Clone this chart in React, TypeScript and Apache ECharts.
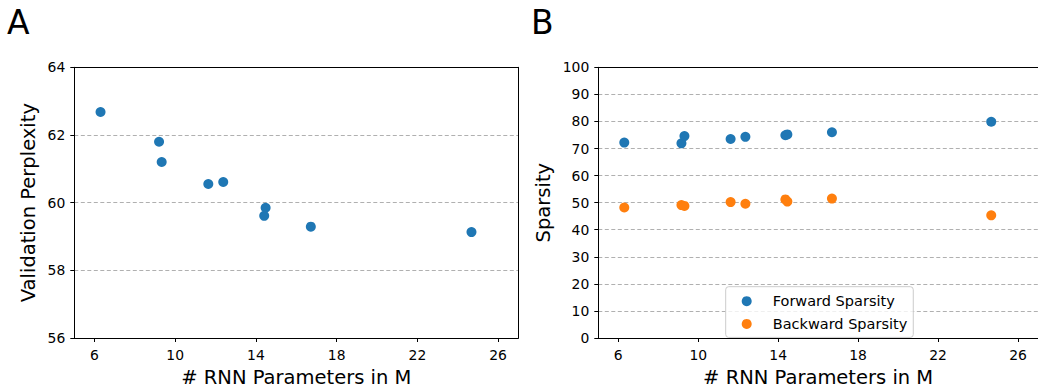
import React, { useEffect, useRef } from "react";
import * as echarts from "echarts";

const params = [6.3, 9.2, 9.33, 11.64, 12.38, 14.41, 14.48, 16.72, 24.68];
const perplexity = [62.68, 61.8, 61.2, 60.55, 60.61, 59.61, 59.85, 59.29, 59.13];
const paramsFwd = [6.3, 9.16, 9.31, 11.62, 12.36, 14.36, 14.46, 16.69, 24.66];
const forwardSparsity = [72.2, 71.9, 74.6, 73.5, 74.3, 74.9, 75.2, 76.0, 79.9];
const backwardSparsity = [48.2, 49.1, 48.8, 50.2, 49.6, 51.2, 50.4, 51.5, 45.3];
const xTicks = [6, 10, 14, 18, 22, 26];

const FONT = "DejaVu Sans";
const BLUE = "#1f77b4";
const ORANGE = "#ff7f0e";

function zip(xs: number[], ys: number[]) {
  return xs.map((x, i) => [x, ys[i]]);
}

export default function App() {
  const ref = useRef<HTMLDivElement>(null);
  useEffect(() => {
    if (!ref.current) return;
    const chart = echarts.init(ref.current, undefined, { renderer: "svg" });
    const xAxisBase = (gridIndex: number) => ({
      type: "value",
      gridIndex,
      min: 5,
      max: 27,
      name: "# RNN Parameters in M",
      nameLocation: "middle",
      nameGap: 29,
      nameTextStyle: { fontSize: 19.5, color: "#000", fontFamily: FONT },
      axisLine: { show: true, onZero: false, lineStyle: { color: "#000", width: 1 } },
      axisTick: {
        show: true,
        length: 4,
        inside: false,
        customValues: xTicks,
        lineStyle: { color: "#000", width: 1 },
      },
      axisLabel: {
        customValues: xTicks,
        fontSize: 13.9,
        color: "#000",
        fontFamily: FONT,
        margin: 10,
      },
      splitLine: { show: false },
    });
    const frameAxis = (kind: "x" | "y", gridIndex: number, min: number, max: number) => ({
      type: "value",
      gridIndex,
      position: kind === "x" ? "top" : "right",
      min,
      max,
      axisLine: { show: true, onZero: false, lineStyle: { color: "#000", width: 1 } },
      axisTick: { show: false },
      axisLabel: { show: false },
      splitLine: { show: false },
      z: 10,
    });
    const yAxisBase = (gridIndex: number) => ({
      type: "value",
      gridIndex,
      nameLocation: "middle",
      nameRotate: 90,
      nameTextStyle: { fontSize: 19.5, color: "#000", fontFamily: FONT },
      axisLine: { show: true, onZero: false, lineStyle: { color: "#000", width: 1 } },
      axisTick: { show: true, length: 4, inside: false, lineStyle: { color: "#000", width: 1 } },
      axisLabel: { fontSize: 13.9, color: "#000", fontFamily: FONT, margin: 9 },
      splitLine: { show: true, lineStyle: { color: "#b0b0b0", type: [4, 2.5], width: 1 } },
    });
    chart.setOption({
      animation: false,
      textStyle: { fontFamily: FONT },
      title: [
        { text: "A", left: 7, top: 6, padding: 0, textStyle: { fontSize: 33, fontWeight: "normal", color: "#000", fontFamily: FONT } },
        { text: "B", left: 531, top: 6, padding: 0, textStyle: { fontSize: 33, fontWeight: "normal", color: "#000", fontFamily: FONT } },
      ],
      grid: [
        { left: 74.3, top: 67.3, width: 444, height: 273.7 },
        { left: 598.3, top: 67.3, width: 444.6, height: 273.7 },
      ],
      xAxis: [xAxisBase(0), xAxisBase(1), frameAxis("x", 0, 5, 27), frameAxis("x", 1, 5, 27)],
      yAxis: [
        { ...yAxisBase(0), min: 56, max: 64, interval: 2, name: "Validation Perplexity", nameGap: 36 },
        { ...yAxisBase(1), min: 0, max: 100, interval: 10, name: "Sparsity", nameGap: 45 },
        frameAxis("y", 0, 56, 64),
        frameAxis("y", 1, 0, 100),
      ],
      legend: {
        left: 725.7,
        top: 286.7,
        orient: "vertical",
        data: ["Forward Sparsity", "Backward Sparsity"],
        icon: "circle",
        itemWidth: 42,
        itemHeight: 10,
        itemGap: 7.7,
        padding: [7, 6, 6, 16],
        backgroundColor: "rgba(255,255,255,0.8)",
        borderColor: "#cccccc",
        borderWidth: 1,
        borderRadius: 3,
        textStyle: { fontSize: 14.5, color: "#000", fontFamily: FONT, lineHeight: 14 },
      },
      series: [
        {
          type: "scatter",
          name: "Validation Perplexity",
          xAxisIndex: 0,
          yAxisIndex: 0,
          data: zip(params, perplexity),
          symbolSize: 10,
          itemStyle: { color: BLUE, opacity: 1 },
        },
        {
          type: "scatter",
          name: "Forward Sparsity",
          xAxisIndex: 1,
          yAxisIndex: 1,
          data: zip(paramsFwd, forwardSparsity),
          symbolSize: 10,
          itemStyle: { color: BLUE, opacity: 1 },
        },
        {
          type: "scatter",
          name: "Backward Sparsity",
          xAxisIndex: 1,
          yAxisIndex: 1,
          data: zip(paramsFwd, backwardSparsity),
          symbolSize: 10,
          itemStyle: { color: ORANGE, opacity: 1 },
        },
      ],
    });
    return () => chart.dispose();
  }, []);
  return (
    <div
      ref={ref}
      style={{ position: "fixed", left: 0, top: 0, width: 1038, height: 392, background: "#fff" }}
    />
  );
}
